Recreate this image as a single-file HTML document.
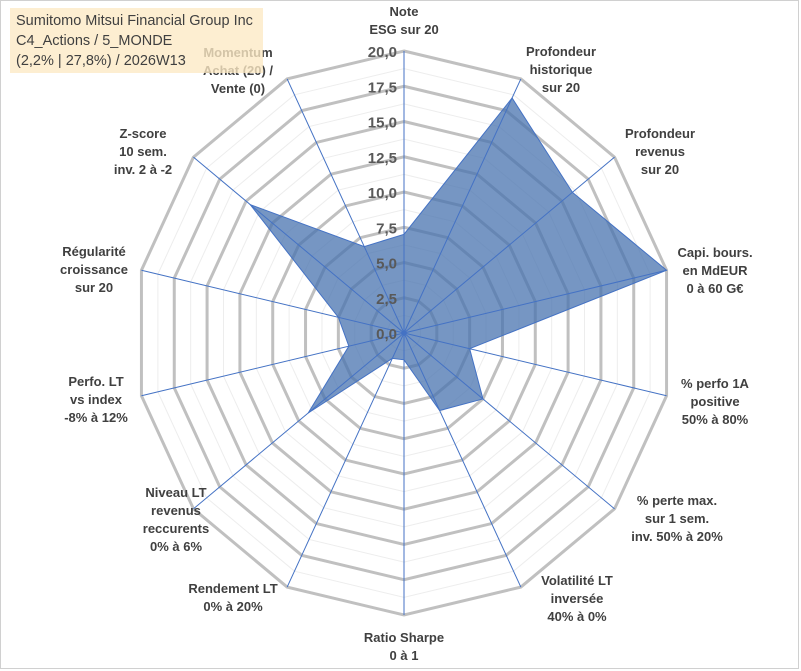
<!DOCTYPE html>
<html><head><meta charset="utf-8"><style>
body{margin:0;background:#fff}
#wrap{position:relative;width:801px;height:671px;overflow:hidden;font-family:"Liberation Sans",Arial,sans-serif}
#frame{position:absolute;left:0;top:0;width:797px;height:667px;border:1px solid #d0d0d0}
.lbl{position:absolute;transform:translateX(-50%);text-align:center;font-weight:bold;font-size:13px;line-height:18px;color:#404040;white-space:nowrap}
#title{position:absolute;left:10px;top:8px;width:253px;height:65px;background:rgba(253,233,196,0.78);font-size:14.5px;line-height:20px;color:#404040;padding:3px 0 0 6px;box-sizing:border-box}
</style></head><body>
<div id="wrap">
<div id="frame"></div>
<svg id="svg" width="801" height="671" style="position:absolute;left:0;top:0"></svg>
<div id="labels"></div>
<div id="title">Sumitomo Mitsui Financial Group Inc<br>C4_Actions / 5_MONDE<br>(2,2% | 27,8%) / 2026W13</div>
</div>
<script>
const categories=["Note\nESG sur 20","Profondeur\nhistorique\nsur 20","Profondeur\nrevenus\nsur 20","Capi. bours.\nen MdEUR\n0 à 60 G€","% perfo 1A\npositive\n50% à 80%","% perte max.\nsur 1 sem.\ninv. 50% à 20%","Volatilité LT\ninversée\n40% à 0%","Ratio Sharpe\n0 à 1","Rendement LT\n0% à 20%","Niveau LT\nrevenus\nreccurents\n0% à 6%","Perfo. LT\nvs index\n-8% à 12%","Régularité\ncroissance\nsur 20","Z-score\n10 sem.\ninv. 2 à -2","Momentum\nAchat (20) /\nVente (0)"];
const values=[7.0,18.5,16.0,20.0,5.0,7.5,6.1,1.9,2.0,9.1,4.2,5.0,14.6,6.8];
const tickLabels=["0,0","2,5","5,0","7,5","10,0","12,5","15,0","17,5","20,0"];
const tickValues=[0,2.5,5,7.5,10,12.5,15,17.5,20];
const maxV=20;
const labelPos=[[404,3],[561,43],[660,125],[715,244],[715,375],[677,492],[577,572],[404,629],[233,580],[176,484],[96,373],[94,243],[143,125],[238,44]];
const cx=404,cy=333,R=282,sx=0.955;
const N=categories.length;
function pt(i,v){const a=i*2*Math.PI/N;const r=v/maxV*R;return [cx+Math.sin(a)*r*sx,cy-Math.cos(a)*r];}
const svg=document.getElementById('svg');const NS='http://www.w3.org/2000/svg';
function mk(t,at){const e=document.createElementNS(NS,t);for(const k in at)e.setAttribute(k,at[k]);svg.appendChild(e);return e;}
for(let v=1.25;v<=maxV;v+=2.5){const p=categories.map((c,i)=>pt(i,v).join(',')).join(' ');
const e=mk('polygon',{points:p,fill:'none',stroke:'#ededed','stroke-width':1});

}
tickValues.forEach(v=>{if(v===0)return;const p=categories.map((c,i)=>pt(i,v).join(',')).join(' ');
const e=mk('polygon',{points:p,fill:'none',stroke:'#c0c0c0','stroke-width':3});

});
const sp=values.map((v,i)=>pt(i,v).join(',')).join(' ');
const s=mk('polygon',{points:sp,fill:'rgba(72,115,175,0.75)',stroke:'#4472c4','stroke-width':1});


categories.forEach((c,i)=>{const [x,y]=pt(i,maxV);const e=mk('line',{x1:cx,y1:cy,x2:x,y2:y,stroke:'#4472c4','stroke-width':1});

});
mk('circle',{cx:cx,cy:cy,r:2.5,fill:'#4472c4'});
tickValues.forEach((v,k)=>{const [x,y]=pt(0,v);const t=mk('text',{x:x-7,y:y+6,'text-anchor':'end','font-size':15,'font-weight':'bold',fill:'#595959','font-family':'Liberation Sans, Arial, sans-serif'});t.textContent=tickLabels[k];

});
const L=document.getElementById('labels');
categories.forEach((c,i)=>{const d=document.createElement('div');d.className='lbl';d.style.left=labelPos[i][0]+'px';d.style.top=labelPos[i][1]+'px';d.innerHTML=c.split('\n').join('<br>');


L.appendChild(d);});
</script>
</body></html>
